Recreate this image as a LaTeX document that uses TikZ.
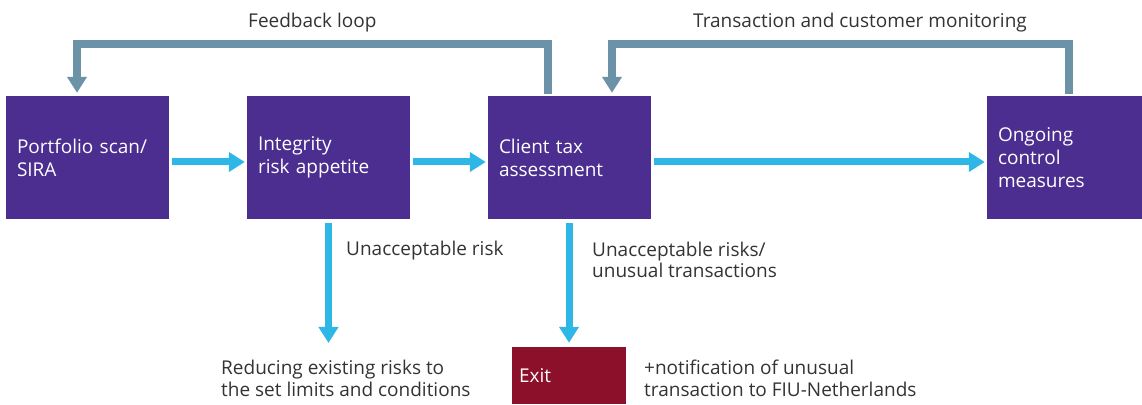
\documentclass[tikz,border=0pt]{standalone}
\usepackage{fontspec}
\setmainfont{Open Sans}
\usetikzlibrary{arrows.meta}
\definecolor{stageviolet}{RGB}{75,46,143}
\definecolor{exitred}{RGB}{140,16,42}
\definecolor{flowblue}{RGB}{46,183,230}
\definecolor{loopgrey}{RGB}{108,146,168}
\definecolor{labelgrey}{RGB}{51,51,51}
\begin{document}
\begin{tikzpicture}[x=1pt,y=1pt,
    stage/.style={fill=stageviolet,text=white,text width=141pt,minimum height=123pt,
      inner xsep=11pt,align=left,font=\fontsize{19}{23}\selectfont},
    note/.style={text=labelgrey,align=left,inner sep=0pt,font=\fontsize{19}{21.5}\selectfont},
    flow/.style={draw=flowblue,line width=7pt,-{Triangle[width=19pt,length=16pt]}},
    feedback/.style={draw=loopgrey,line width=8pt,miter limit=10,-{Triangle[width=19pt,length=16pt]}}]
    \useasboundingbox (0,0) rectangle (1142,404);
    \node[stage] (scan) at (87.5,246.5) {Portfolio scan/\\SIRA};
    \node[stage] (appetite) at (328.5,246.5) {Integrity\\risk appetite};
    \node[stage] (tax) at (569.5,246.5) {Client tax\\assessment};
    \node[stage,text width=133pt] (control) at (1064.5,246.5) {Ongoing\\control\\measures};
    \node[fill=exitred,text=white,minimum width=114pt,minimum height=57pt,text width=100pt,
      inner xsep=7pt,align=left,font=\fontsize{19}{23}\selectfont] (exit) at (569,28.5) {Exit};
    \node[note,anchor=base west] (reduce) at (221,8) {Reducing existing risks to\\the set limits and conditions};
    \node[note,anchor=base west] (fiu) at (644,8) {+notification of unusual\\transaction to FIU-Netherlands};
    \node[note,anchor=base west] (risk) at (346,148) {Unacceptable risk};
    \node[note,anchor=base west] (unusual) at (592,126) {Unacceptable risks/\\unusual transactions};
    \node[note,anchor=base west] (fbloop) at (248,376) {Feedback loop};
    \node[note,anchor=base west] (monitor) at (693,376) {Transaction and customer monitoring};
    \coordinate (reduced) at (328.5,61);
    \coordinate (fbtop) at (77,360);
    \coordinate (mntop) at (612,360);
    \draw[flow,shorten <=3pt,shorten >=2pt] (scan.east |- 0,242) -- (appetite.west |- 0,242);
    \draw[flow,shorten <=3pt,shorten >=2pt] (appetite.east |- 0,242) -- (tax.west |- 0,242);
    \draw[flow,shorten <=3pt,shorten >=2pt] (tax.east |- 0,242) -- (control.west |- 0,242);
    \draw[flow,shorten <=4pt] (appetite.south) -- (reduced);
    \draw[flow,shorten <=4pt,shorten >=4pt] (tax.south -| exit.north) -- (exit.north);
    \draw[feedback,shorten <=2pt,shorten >=3pt] (tax.north -| 548,0) |- (fbtop) -- (fbtop |- scan.north);
    \draw[feedback,shorten <=2pt,shorten >=3pt] (control.north -| 1069,0) |- (mntop) -- (mntop |- tax.north);
\end{tikzpicture}
\end{document}
